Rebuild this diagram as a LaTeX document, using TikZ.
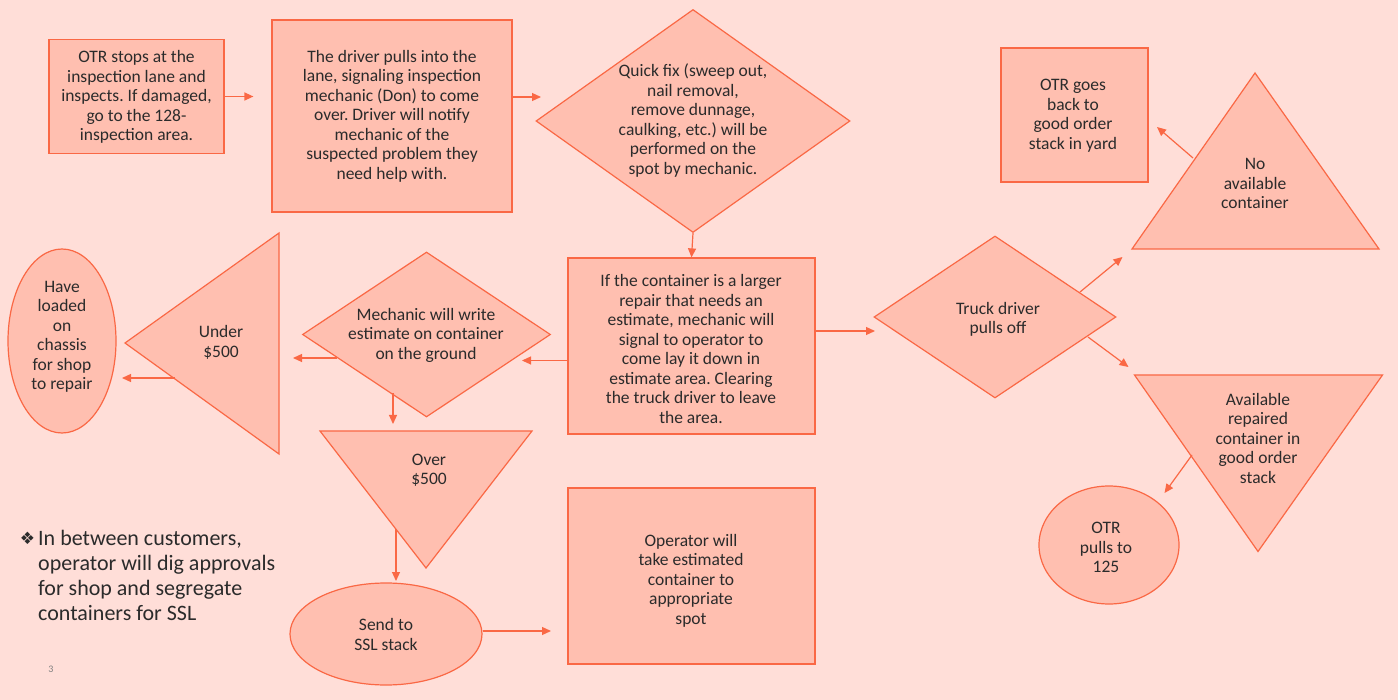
\documentclass[tikz,border=0pt]{standalone}
\usepackage{fontspec}
\setmainfont{Carlito}
\newfontfamily\dejavu{DejaVu Sans}
\usetikzlibrary{shapes.geometric,arrows.meta,calc}
\definecolor{bgc}{HTML}{FFDED8}
\definecolor{fillc}{HTML}{FFBFB0}
\definecolor{linec}{HTML}{FA6845}
\definecolor{txtc}{HTML}{2B2B2B}
\frenchspacing
\begin{document}
\begin{tikzpicture}[x=1pt,y=-1pt,
  shp/.style={draw=linec, fill=fillc, line width=1.2pt},
  box/.style={shp, rectangle, inner sep=0pt},
  ell/.style={shp, ellipse, inner sep=0pt},
  dia/.style={shp, diamond, inner sep=0pt},
  txt/.style={align=center, font=\fontsize{17.5}{19.5}\selectfont, text=txtc, inner sep=0pt},
  arr/.style={draw=linec, line width=1.2pt, -{Triangle[length=9pt,width=8pt]}}]
\fill[bgc] (0,0) rectangle (1398,700);
\useasboundingbox (0,0) rectangle (1398,700);

% rectangles
\node[box, minimum width=175, minimum height=114] (b1) at (136.5,96.5) {};
\node[box, minimum width=240, minimum height=192] (b2) at (392,116) {};
\node[box, minimum width=247, minimum height=176] (b3) at (691.5,346) {};
\node[box, minimum width=247, minimum height=176] (b4) at (691.5,576) {};
\node[box, minimum width=147, minimum height=134] (b5) at (1074.5,115) {};
% diamonds
\node[dia, minimum width=314, minimum height=223] (d1) at (693,121) {};
\node[dia, minimum width=248, minimum height=165] (d2) at (426.5,334.5) {};
\node[dia, minimum width=242, minimum height=162] (d3) at (995,317) {};
% ellipses
\node[ell, minimum width=108, minimum height=184] (e1) at (62,341) {};
\node[ell, minimum width=192, minimum height=102] (e2) at (386,634) {};
\node[ell, minimum width=140, minimum height=118] (e3) at (1109,545) {};
% triangles
\draw[shp] (125,343) -- (279,233) -- (279,454) -- cycle;
\draw[shp] (320,431) -- (532,431) -- (426,568) -- cycle;
\draw[shp] (1255,73) -- (1379,249) -- (1132,249) -- cycle;
\draw[shp] (1134.5,375) -- (1382.5,375) -- (1258,551.5) -- cycle;

% texts
\node[txt] (t1) at (136.5,97) {OTR stops at the\\inspection lane and\\inspects. If damaged,\\go to the 128-\\inspection area.};
\node[txt] (t2) at (392,116) {The driver pulls into the\\lane, signaling inspection\\mechanic (Don) to come\\over. Driver will notify\\mechanic of the\\suspected problem they\\need help with.};
\node[txt] (t3) at (693,120.5) {Quick fix (sweep out,\\nail removal,\\remove dunnage,\\caulking, etc.) will be\\performed on the\\spot by mechanic.};
\node[txt] (t4) at (691,349) {If the container is a larger\\repair that needs an\\estimate, mechanic will\\signal to operator to\\come lay it down in\\estimate area. Clearing\\the truck driver to leave\\the area.};
\node[txt] (t5) at (426,335) {Mechanic will write\\estimate on container\\on the ground};
\node[txt] (t6) at (221,342.5) {Under\\\$500};
\node[txt] (t7) at (62,337) {Have\\loaded\\on\\chassis\\for shop\\to repair};
\node[txt] (t8) at (429,470.5) {Over\\\$500};
\node[txt] (t9) at (386,634.5) {Send to\\SSL stack};
\node[txt] (t10) at (691,580.5) {Operator will\\take estimated\\container to\\appropriate\\spot};
\node[txt] (t11) at (998,319.5) {Truck driver\\pulls off};
\node[txt] (t12) at (1255,183.5) {No\\available\\container};
\node[txt] (t13) at (1073,115.5) {OTR goes\\back to\\good order\\stack in yard};
\node[txt] (t14) at (1258,438) {Available\\repaired\\container in\\good order\\stack};
\node[txt] (t15) at (1106,547.5) {OTR\\pulls to\\125};

% free arrow ends
\coordinate (a2e) at (541,97);
\coordinate (a4e) at (522,360.5);
\coordinate (a5s) at (337,358);
\coordinate (a5e) at (293,358);
\coordinate (a6s) at (175,378);
\coordinate (a6e) at (122,378);
\coordinate (a7s) at (393,393);
\coordinate (a7e) at (393,424);
\coordinate (a8s) at (396,529);
\coordinate (a8e) at (396,581);
\coordinate (a9e) at (551,631);
\coordinate (a10e) at (875,331);
\coordinate (a11s) at (1080,292);
\coordinate (a11e) at (1122.5,257);
\coordinate (a12s) at (1088,337);
\coordinate (a12e) at (1128.5,367);
\coordinate (a13s) at (1193,158);
\coordinate (a13e) at (1157,127);
\coordinate (a14s) at (1192,455);
\coordinate (a14e) at (1164.5,493);

% connectors
\draw[arr, shorten >=18pt] (b1.east) -- (b1.east -| b2.west);
\draw[arr] (a2e -| b2.east) -- (a2e);
\draw[arr] (d1.south) -- (b3.north);
\draw[arr] (a4e -| b3.west) -- (a4e);
\draw[arr] (a5s) -- (a5e);
\draw[arr] (a6s) -- (a6e);
\draw[arr] (a7s) -- (a7e);
\draw[arr] (a8s) -- (a8e);
\draw[arr] (a9e -| e2.east) -- (a9e);
\draw[arr] (a10e -| b3.east) -- (a10e);
\draw[arr] (a11s) -- (a11e);
\draw[arr] (a12s) -- (a12e);
\draw[arr] (a13s) -- (a13e);
\draw[arr] (a14s) -- (a14e);

% note
\node[font=\dejavu\fontsize{17}{17}\selectfont, text=txtc, inner sep=0pt] (bul) at (27.5,538) {❖};
\node[anchor=north west, align=left, font=\fontsize{22}{25}\selectfont, text=txtc, inner sep=0pt] (note) at (38,530) {In between customers,\\operator will dig approvals\\for shop and segregate\\containers for SSL};
\node[font=\fontsize{10}{10}\selectfont, text=gray, inner sep=0pt] (pg) at (51,669) {3};
\end{tikzpicture}
\end{document}
